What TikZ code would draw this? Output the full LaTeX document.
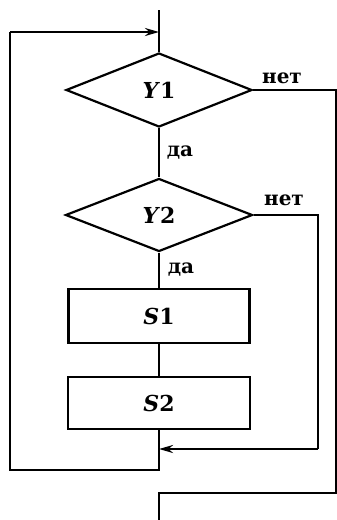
\documentclass[tikz,border=0pt]{standalone}
\usepackage{fontspec}
\setmainfont{DejaVu Serif}
\usetikzlibrary{shapes.geometric,arrows.meta}
\begin{document}
\begin{tikzpicture}[x=1pt,y=-1pt,
  line/.style={line width=2.2pt},
  cond/.style={diamond,draw,line width=2.2pt,inner sep=0pt,font=\bfseries\fontsize{22}{26}\selectfont},
  act/.style={rectangle,draw,line width=2.2pt,inner sep=0pt,font=\bfseries\fontsize{22}{26}\selectfont},
  lbl/.style={font=\bfseries\fontsize{20}{24}\selectfont},
  arr/.style={line width=2.2pt,-{Stealth[length=14pt,width=8pt]}}]
\useasboundingbox (0,0) rectangle (337,520);
\node[cond,minimum width=186pt,minimum height=74pt,aspect=2.51] (y1) at (159,90) {\textit{Y}1};
\node[cond,minimum width=187pt,minimum height=73pt,aspect=2.56] (y2) at (159,215) {\textit{Y}2};
\node[act,minimum width=181pt,minimum height=54pt] (s1) at (159,316) {\textit{S}1};
\node[act,minimum width=182pt,minimum height=52pt] (s2) at (159,403) {\textit{S}2};
\coordinate (top) at (159,10);
\coordinate (join) at (159,32);
\coordinate (merge) at (159,449);
\coordinate (lbot) at (159,470);
\coordinate (exit1) at (159,493);
\coordinate (bottom) at (159,520);
\draw[line] (top) -- (y1.north);
\draw[line] (y1.south) -- (y2.north);
\draw[line] (y2.south) -- (s1.north);
\draw[line] (s1.south) -- (s2.north);
\draw[line] (s2.south) -- (lbot) -- (10,470) -- (10,32);
\draw[arr] (10,32) -- (join);
\draw[line] (y2.east) -- (318,215) -- (318,449);
\draw[arr] (318,449) -- (merge);
\draw[line] (y1.east) -- (336,90) -- (336,493) -- (exit1) -- (bottom);
\node[lbl] (n1) at (282,78) {нет};
\node[lbl] (n2) at (284,200) {нет};
\node[lbl] (d1) at (180,153) {да};
\node[lbl] (d2) at (181,270) {да};
\end{tikzpicture}
\end{document}
